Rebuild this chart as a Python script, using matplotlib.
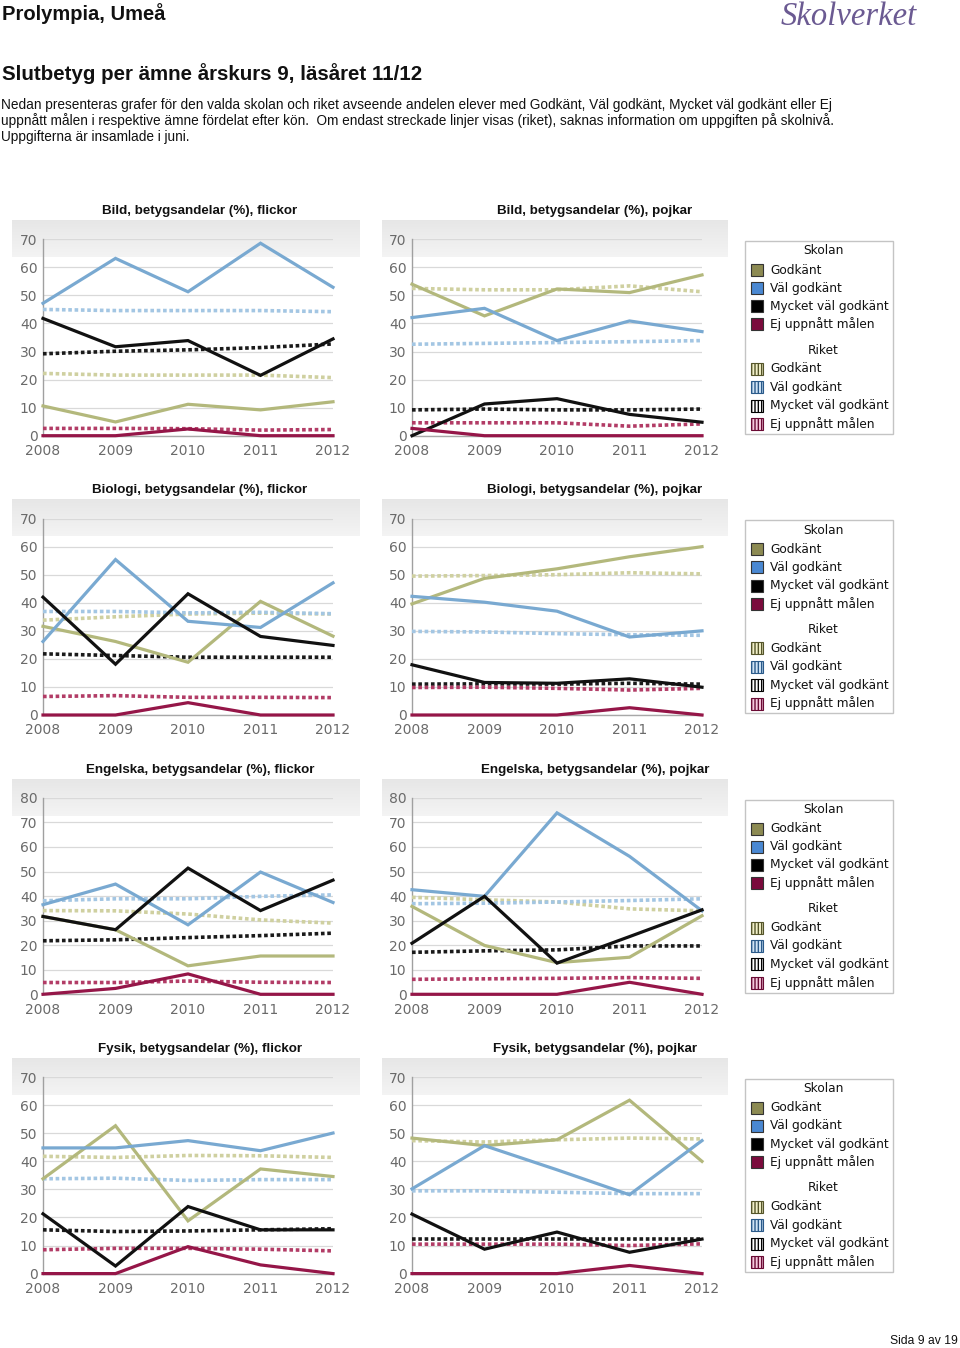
import matplotlib
matplotlib.use("Agg")
import matplotlib.pyplot as plt
import numpy as np
from matplotlib.patches import Rectangle

W, H = 960, 1348
fig = plt.figure(figsize=(W / 100, H / 100), dpi=100)
plt.rcParams['hatch.linewidth'] = 1.0

years = [2008, 2009, 2010, 2011, 2012]
year_labels = ["2008", "2009", "2010", "2011", "2012"]

# Bild, flickor
bild_f_g = [10.6, 4.9, 11.2, 9.2, 12.1]
bild_f_vg = [47.2, 63.2, 51.3, 68.6, 52.9]
bild_f_mvg = [41.8, 31.7, 33.9, 21.5, 34.5]
bild_f_ig = [0, 0, 2.4, 0, 0]
bild_f_r_g = [22.2, 21.6, 21.6, 21.6, 20.7]
bild_f_r_vg = [45.0, 44.6, 44.6, 44.6, 44.2]
bild_f_r_mvg = [29.2, 30.1, 30.6, 31.4, 32.7]
bild_f_r_ig = [2.6, 2.6, 2.5, 2.0, 2.2]

# Bild, pojkar
bild_p_g = [54.0, 42.7, 52.3, 51.0, 57.3]
bild_p_vg = [42.1, 45.4, 33.9, 40.9, 37.1]
bild_p_mvg = [0, 11.3, 13.2, 7.6, 4.8]
bild_p_ig = [2.6, 0, 0, 0, 0]
bild_p_r_g = [52.5, 52.0, 52.0, 53.4, 51.3]
bild_p_r_vg = [32.6, 32.9, 33.2, 33.5, 33.9]
bild_p_r_mvg = [9.2, 9.5, 9.2, 9.2, 9.5]
bild_p_r_ig = [4.6, 4.6, 4.6, 3.4, 4.2]

# Biologi, flickor
bio_f_g = [31.6, 26.2, 18.8, 40.5, 28.1]
bio_f_vg = [26.2, 55.4, 33.4, 31.2, 47.1]
bio_f_mvg = [42.0, 18.1, 43.2, 28.0, 24.8]
bio_f_ig = [0, 0, 4.4, 0, 0]
bio_f_r_g = [33.8, 35.0, 36.0, 36.3, 36.0]
bio_f_r_vg = [36.9, 36.9, 36.4, 36.6, 36.1]
bio_f_r_mvg = [21.8, 21.2, 20.6, 20.6, 20.6]
bio_f_r_ig = [6.6, 6.9, 6.3, 6.3, 6.2]

# Biologi, pojkar
bio_p_g = [39.6, 48.7, 52.1, 56.4, 60.0]
bio_p_vg = [42.3, 40.2, 37.0, 27.8, 30.0]
bio_p_mvg = [17.9, 11.6, 11.3, 12.9, 9.9]
bio_p_ig = [0, 0, 0, 2.6, 0]
bio_p_r_g = [49.5, 49.7, 50.0, 50.7, 50.3]
bio_p_r_vg = [29.8, 29.6, 29.0, 28.6, 28.4]
bio_p_r_mvg = [11.0, 11.1, 11.0, 11.3, 11.0]
bio_p_r_ig = [9.8, 9.9, 9.5, 8.9, 9.5]

# Engelska, flickor
eng_f_g = [31.7, 26.3, 11.6, 15.6, 15.6]
eng_f_vg = [36.5, 44.9, 28.3, 49.8, 37.4]
eng_f_mvg = [31.7, 26.3, 51.4, 34.1, 46.5]
eng_f_ig = [0, 2.4, 8.3, 0, 0]
eng_f_r_g = [34.1, 34.0, 32.7, 30.3, 29.0]
eng_f_r_vg = [38.1, 38.9, 38.9, 39.9, 40.5]
eng_f_r_mvg = [21.8, 22.2, 23.1, 23.9, 24.9]
eng_f_r_ig = [4.8, 4.8, 5.4, 4.9, 4.8]

# Engelska, pojkar
eng_p_g = [35.8, 19.9, 12.9, 15.1, 32.0]
eng_p_vg = [42.6, 39.9, 73.9, 56.2, 34.0]
eng_p_mvg = [20.8, 39.9, 12.7, 23.5, 34.4]
eng_p_ig = [0, 0, 0, 4.9, 0]
eng_p_r_g = [39.5, 38.5, 37.6, 34.8, 34.0]
eng_p_r_vg = [36.9, 37.1, 37.6, 38.2, 38.9]
eng_p_r_mvg = [17.1, 17.7, 18.1, 19.7, 19.7]
eng_p_r_ig = [6.1, 6.3, 6.5, 6.8, 6.5]

# Fysik, flickor
fys_f_g = [33.8, 52.7, 18.8, 37.3, 34.6]
fys_f_vg = [44.8, 44.8, 47.4, 43.8, 50.1]
fys_f_mvg = [21.3, 2.7, 23.9, 15.6, 15.6]
fys_f_ig = [0, 0, 9.6, 3.1, 0]
fys_f_r_g = [41.8, 41.4, 42.1, 42.0, 41.4]
fys_f_r_vg = [33.8, 34.0, 33.2, 33.5, 33.5]
fys_f_r_mvg = [15.6, 15.0, 15.2, 15.6, 16.0]
fys_f_r_ig = [8.5, 9.0, 9.0, 8.7, 8.1]

# Fysik, pojkar
fys_p_g = [48.3, 45.6, 47.7, 61.8, 40.0]
fys_p_vg = [30.2, 45.6, 37.0, 28.1, 47.4]
fys_p_mvg = [21.2, 8.7, 14.8, 7.6, 12.3]
fys_p_ig = [0, 0, 0, 2.9, 0]
fys_p_r_g = [47.4, 46.9, 47.7, 48.3, 48.0]
fys_p_r_vg = [29.5, 29.5, 29.0, 28.5, 28.5]
fys_p_r_mvg = [12.4, 12.4, 12.4, 12.4, 12.4]
fys_p_r_ig = [10.5, 10.5, 10.5, 10.0, 10.6]

titles = [
    "Bild, betygsandelar (%), flickor", "Bild, betygsandelar (%), pojkar",
    "Biologi, betygsandelar (%), flickor", "Biologi, betygsandelar (%), pojkar",
    "Engelska, betygsandelar (%), flickor", "Engelska, betygsandelar (%), pojkar",
    "Fysik, betygsandelar (%), flickor", "Fysik, betygsandelar (%), pojkar",
]
ymaxes = [70, 70, 70, 70, 80, 80, 70, 70]

chart_data = [
    (bild_f_g, bild_f_vg, bild_f_mvg, bild_f_ig, bild_f_r_g, bild_f_r_vg, bild_f_r_mvg, bild_f_r_ig),
    (bild_p_g, bild_p_vg, bild_p_mvg, bild_p_ig, bild_p_r_g, bild_p_r_vg, bild_p_r_mvg, bild_p_r_ig),
    (bio_f_g, bio_f_vg, bio_f_mvg, bio_f_ig, bio_f_r_g, bio_f_r_vg, bio_f_r_mvg, bio_f_r_ig),
    (bio_p_g, bio_p_vg, bio_p_mvg, bio_p_ig, bio_p_r_g, bio_p_r_vg, bio_p_r_mvg, bio_p_r_ig),
    (eng_f_g, eng_f_vg, eng_f_mvg, eng_f_ig, eng_f_r_g, eng_f_r_vg, eng_f_r_mvg, eng_f_r_ig),
    (eng_p_g, eng_p_vg, eng_p_mvg, eng_p_ig, eng_p_r_g, eng_p_r_vg, eng_p_r_mvg, eng_p_r_ig),
    (fys_f_g, fys_f_vg, fys_f_mvg, fys_f_ig, fys_f_r_g, fys_f_r_vg, fys_f_r_mvg, fys_f_r_ig),
    (fys_p_g, fys_p_vg, fys_p_mvg, fys_p_ig, fys_p_r_g, fys_p_r_vg, fys_p_r_mvg, fys_p_r_ig),
]

legend_labels = ["Godkänt", "Väl godkänt", "Mycket väl godkänt", "Ej uppnått målen"]

# colours
sol_cols = ["#b3b87c", "#79a9d1", "#111111", "#951648"]
dot_cols = ["#cfd0a0", "#a3c6e3", "#1a1a1a", "#b23c66"]
sw_school = ["#8c8a52", "#4a88d2", "#000000", "#7a0a3c"]
sw_riket_face = ["#f2f0c8", "#cfe3f5", "#ffffff", "#f5c8dc"]
sw_riket_edge = ["#55552a", "#2a5a8a", "#000000", "#6a0a34"]

# ---------- background layer ----------
bg = fig.add_axes([0, 0, 1, 1], zorder=0)
bg.set_xlim(0, W)
bg.set_ylim(H, 0)
bg.axis("off")

SANS = "Liberation Sans"
bg.text(2, 19.5, "Prolympia, Umeå", fontsize=14.5, fontweight="bold", family=SANS,
        ha="left", va="baseline", color="#111111")
bg.text(917, 25, "Skolverket", fontsize=23.5, style="italic", family="Liberation Serif",
        ha="right", va="baseline", color="#6b5a92")
bg.text(2, 80.5, "Slutbetyg per ämne årskurs 9, läsåret 11/12", fontsize=14.8, fontweight="bold",
        family=SANS, ha="left", va="baseline", color="#111111")
para = [
    "Nedan presenteras grafer för den valda skolan och riket avseende andelen elever med Godkänt, Väl godkänt, Mycket väl godkänt eller Ej",
    "uppnått målen i respektive ämne fördelat efter kön.  Om endast streckade linjer visas (riket), saknas information om uppgiften på skolnivå.",
    "Uppgifterna är insamlade i juni.",
]
for i, line in enumerate(para):
    bg.text(1, 109.5 + 16 * i, line, fontsize=9.85, family=SANS, ha="left", va="baseline",
            color="#111111")
bg.text(958, 1344, "Sida 9 av 19", fontsize=8.7, family=SANS, ha="right", va="baseline",
        color="#111111")

# gradient band image (light grey, fading slightly downward)
top_c = np.array([0.905, 0.905, 0.905])
bot_c = np.array([0.955, 0.955, 0.955])
tt = np.linspace(0, 1, 64).reshape(-1, 1, 1)
grad = top_c * (1 - tt) + bot_c * tt
grad = np.repeat(grad, 2, axis=1)

ROW = 279.3
col_axes_x = [(43, 333), (412, 702)]
col_panel_x = [(12, 360), (382, 728)]
title_cx = [200, 595]

for idx in range(8):
    r, c = divmod(idx, 2)
    dy = ROW * r
    px0, px1 = col_panel_x[c]
    bg.imshow(grad, extent=(px0, px1, 257 + dy, 220 + dy), aspect="auto",
              interpolation="bilinear", zorder=1)
    bg.text(title_cx[c], 214 + dy, titles[idx], fontsize=9.6, fontweight="bold", family=SANS,
            ha="center", va="baseline", color="#111111", zorder=3)

    x0, x1 = col_axes_x[c]
    ytop, ybot = 239.3 + dy, 435.7 + dy
    ax = fig.add_axes([x0 / W, 1 - ybot / H, (x1 - x0) / W, (ybot - ytop) / H], zorder=2)
    ax.patch.set_alpha(0)
    ymax = ymaxes[idx]
    ax.set_xlim(2008, 2012)
    ax.set_ylim(0, ymax)
    ax.set_yticks(np.arange(0, ymax + 1, 10))
    ax.set_xticks(years)
    ax.set_xticklabels(year_labels)
    ax.tick_params(length=0, labelsize=10, labelcolor="#6a6a6a", pad=4)
    ax.tick_params(axis="x", pad=6)
    for lab in ax.get_xticklabels() + ax.get_yticklabels():
        lab.set_family("DejaVu Sans")
    ax.grid(axis="y", color="#d9d9d9", lw=0.9)
    ax.set_axisbelow(True)
    for s in ["top", "right"]:
        ax.spines[s].set_visible(False)
    ax.spines["left"].set_color("#a0a0a0")
    ax.spines["bottom"].set_color("#a8a8a8")
    ax.spines["left"].set_linewidth(1.0)
    ax.spines["bottom"].set_linewidth(1.0)

    d = chart_data[idx]
    for k in range(4):
        ax.plot(years, d[4 + k], color=dot_cols[k], lw=2.6, ls=(0, (1.0, 0.75)),
                clip_on=False, zorder=3, dash_capstyle="butt")
    for k in range(4):
        ax.plot(years, d[k], color=sol_cols[k], lw=2.3, clip_on=False, zorder=4,
                solid_joinstyle="miter")

    if c == 1:
        lx0, lx1 = 745, 893
        ly0, ly1 = 241 + dy, 434 + dy
        bg.add_patch(Rectangle((lx0, ly0), lx1 - lx0, ly1 - ly0, facecolor="white",
                               edgecolor="#c4c4c4", lw=1.0, zorder=3))
        bg.text(823, 251 + dy, "Skolan", fontsize=8.7, family="DejaVu Sans", ha="center",
                va="center", color="#111111", zorder=4)
        bg.text(823, 350 + dy, "Riket", fontsize=8.7, family="DejaVu Sans", ha="center",
                va="center", color="#111111", zorder=4)
        for k in range(4):
            yy = 270 + 18.1 * k + dy
            bg.add_patch(Rectangle((751, yy - 6), 12, 12, facecolor=sw_school[k],
                                   edgecolor="#333333", lw=0.8, zorder=4))
            bg.text(770, yy, legend_labels[k], fontsize=8.7, family="DejaVu Sans", ha="left",
                    va="center", color="#111111", zorder=4)
            yy2 = 369 + 18.4 * k + dy
            bg.add_patch(Rectangle((751, yy2 - 6), 12, 12, facecolor=sw_riket_face[k],
                                   edgecolor=sw_riket_edge[k], lw=0.8, hatch="|||||", zorder=4))
            bg.text(770, yy2, legend_labels[k], fontsize=8.7, family="DejaVu Sans", ha="left",
                    va="center", color="#111111", zorder=4)

fig.savefig("out.png", dpi=100)
